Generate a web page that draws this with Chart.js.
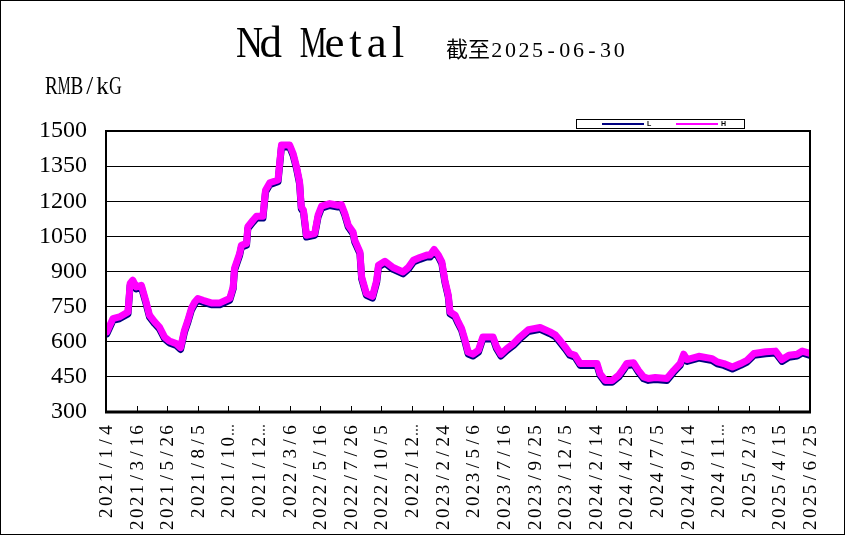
<!DOCTYPE html>
<html>
<head>
<meta charset="utf-8">
<title>Nd Metal</title>
<script src="https://cdn.jsdelivr.net/npm/chart.js@4.4.1/dist/chart.umd.min.js"></script>
<style>
    html, body { margin: 0; padding: 0; background: #fff; }
    #wrap { width: 845px; height: 535px; }
</style>
</head>
<body>
<div id="wrap"><canvas id="nd-chart" width="845" height="535"></canvas></div>
<script>
    'use strict';

    // Days counted from 2021/1/4 (first label)
    const dayIndex = [
        2, 16, 31, 51, 56, 62, 70, 82, 93, 101,
        113, 124, 136, 147, 163, 173, 182, 190, 198, 206,
        213, 225, 244, 264, 287, 295, 298, 310, 314, 326,
        329, 341, 349, 364, 370, 380, 399, 407, 426, 434,
        442, 449, 453, 458, 465, 484, 492, 500, 519, 538,
        546, 554, 562, 573, 577, 589, 593, 604, 618, 628,
        632, 647, 666, 689, 701, 713, 728, 744, 752, 761,
        771, 779, 786, 794, 798, 810, 817, 825, 833, 840,
        851, 864, 874, 898, 906, 916, 930, 945, 960, 980,
        1007, 1030, 1042, 1053, 1065, 1076, 1088, 1100, 1139, 1146,
        1158, 1174, 1189, 1200, 1208, 1224, 1235, 1247, 1258, 1274,
        1301, 1317, 1332, 1340, 1348, 1375, 1406, 1418, 1433, 1453,
        1472, 1487, 1503, 1530, 1553, 1568, 1584, 1603, 1615, 1633
    ];

    // High price, RMB/kG
    const priceH = [
        642, 699, 706, 727, 849, 863, 834, 841, 770, 713,
        685, 663, 620, 603, 592, 575, 649, 692, 742, 770,
        785, 777, 766, 766, 785, 834, 913, 977, 1012, 1020,
        1091, 1119, 1136, 1136, 1247, 1279, 1291, 1440, 1440, 1404,
        1347, 1283, 1176, 1162, 1055, 1062, 1141, 1179, 1190, 1183,
        1186, 1148, 1098, 1069, 1034, 984, 877, 806, 794, 863,
        927, 944, 917, 898, 917, 948, 960, 970, 970, 994,
        970, 941, 863, 799, 727, 713, 685, 656, 606, 556,
        547, 564, 620, 620, 578, 547, 571, 592, 620, 652,
        661, 642, 630, 606, 578, 550, 542, 507, 507, 464,
        435, 435, 457, 485, 507, 510, 478, 450, 443, 447,
        443, 478, 507, 547, 524, 538, 528, 514, 507, 492,
        507, 521, 550, 557, 560, 524, 542, 547, 560, 550
    ];

    // Low price, RMB/kG
    const priceL = [
        634, 691, 698, 719, 841, 855, 826, 833, 762, 705,
        677, 655, 612, 595, 584, 567, 641, 684, 734, 762,
        777, 769, 758, 758, 777, 826, 905, 969, 1004, 1012,
        1083, 1111, 1128, 1128, 1239, 1271, 1283, 1432, 1432, 1396,
        1339, 1275, 1168, 1154, 1047, 1054, 1133, 1171, 1182, 1175,
        1178, 1140, 1090, 1061, 1026, 976, 869, 798, 786, 855,
        919, 936, 909, 890, 909, 940, 952, 962, 962, 986,
        962, 933, 855, 791, 719, 705, 677, 648, 598, 548,
        539, 556, 612, 612, 570, 539, 563, 584, 612, 644,
        653, 634, 622, 598, 570, 542, 534, 499, 499, 456,
        427, 427, 449, 477, 499, 502, 470, 442, 435, 439,
        435, 470, 499, 539, 516, 530, 520, 506, 499, 484,
        499, 513, 542, 549, 552, 516, 534, 539, 552, 542
    ];

    // Date labels, one every 71 days
    const tickLabels = [
        '2021/1/4', '2021/3/16', '2021/5/26', '2021/8/5', '2021/10\u2026', '2021/12\u2026',
        '2022/3/6', '2022/5/16', '2022/7/26', '2022/10/5', '2022/12\u2026', '2023/2/24',
        '2023/5/6', '2023/7/16', '2023/9/25', '2023/12/5', '2024/2/14', '2024/4/25',
        '2024/7/5', '2024/9/14', '2024/11\u2026', '2025/2/3', '2025/4/15', '2025/6/25'
    ];
    const tickStep = 71;

    const SERIF = '"Liberation Serif", serif';
    const CJK = '"Noto Sans CJK SC"';

    function toPoints(values) {
        return values.map((v, i) => ({ x: dayIndex[i], y: v }));
    }

    // Draw text on a fixed pitch, like the half-width font of the original.
    // CJK characters take widePitch; glyphs wider than maxW get squeezed.
    function drawMono(ctx, text, x, y, pitch, widePitch, font, cjkFont, maxW) {
        let cx = x;
        ctx.textAlign = 'center';
        for (const ch of text) {
            const wide = ch.charCodeAt(0) > 0x2e80;
            const w = wide ? widePitch : pitch;
            ctx.font = wide ? cjkFont : font;
            ctx.fillText(ch, cx + w / 2, y, wide ? w : (maxW || w));
            cx += w;
        }
        return cx - x;
    }

    // Frame, inner ticks, date labels, titles and the small legend box
    const decorPlugin = {
        id: 'decor',
        afterDraw(chart) {
            const ctx = chart.ctx;
            const area = chart.chartArea;
            const xScale = chart.scales.x;

            ctx.save();
            ctx.strokeStyle = '#000';

            // plot frame
            ctx.lineWidth = 2;
            ctx.strokeRect(area.left, area.top, area.right - area.left, area.bottom - area.top);
            ctx.lineWidth = 3;
            ctx.beginPath();
            ctx.moveTo(area.left - 1, area.bottom);
            ctx.lineTo(area.right + 1, area.bottom);
            ctx.stroke();

            // tick marks pointing into the plot
            ctx.lineWidth = 1;
            xScale.ticks.forEach((t, i) => {
                const x = Math.round(xScale.getPixelForTick(i)) + 0.5;
                ctx.beginPath();
                ctx.moveTo(x, area.bottom);
                ctx.lineTo(x, area.bottom - 6);
                ctx.stroke();
            });

            // date labels, rotated, ending just under the axis
            ctx.fillStyle = '#000';
            ctx.textBaseline = 'middle';
            const pitch = 11.9;
            xScale.ticks.forEach((t, i) => {
                const label = tickLabels[i];
                const n = [...label].length;
                ctx.save();
                ctx.translate(xScale.getPixelForTick(i) + 1, area.bottom + 12);
                ctx.rotate(-Math.PI / 2);
                drawMono(ctx, label, -n * pitch, 0, pitch, pitch * 2, '19px ' + SERIF, '19px ' + CJK);
                ctx.restore();
            });

            // outer border
            ctx.lineWidth = 1;
            ctx.strokeRect(0.5, 0.5, chart.width - 1, chart.height - 1);

            // titles
            ctx.textBaseline = 'alphabetic';
            drawMono(ctx, 'Nd Metal', 239, 57, 21.2, 42, '45px ' + SERIF, '45px ' + CJK, 27);
            drawMono(ctx, '截至2025-06-30', 446, 57, 13.6, 22, '22px ' + SERIF, '22px ' + CJK);
            drawMono(ctx, 'RMB/kG', 45, 94, 12.8, 25, '25px ' + SERIF, '25px ' + CJK);

            // legend
            const box = { x: 576.5, y: 119.5, w: 168, h: 9 };
            ctx.fillStyle = '#fff';
            ctx.fillRect(box.x, box.y, box.w, box.h);
            ctx.strokeStyle = '#000';
            ctx.lineWidth = 1;
            ctx.strokeRect(box.x, box.y, box.w, box.h);
            const items = [
                { ds: chart.data.datasets[1], x: 602 },
                { ds: chart.data.datasets[0], x: 676 }
            ];
            ctx.font = 'bold 7px "Liberation Sans"';
            ctx.textAlign = 'left';
            ctx.textBaseline = 'middle';
            items.forEach(item => {
                ctx.strokeStyle = item.ds.borderColor;
                ctx.lineWidth = 2;
                ctx.beginPath();
                ctx.moveTo(item.x, box.y + 4.5);
                ctx.lineTo(item.x + 42, box.y + 4.5);
                ctx.stroke();
                ctx.fillStyle = '#000';
                ctx.fillText(item.ds.label, item.x + 45, box.y + 5);
            });

            ctx.restore();
        }
    };

    new Chart(document.getElementById('nd-chart'), {
        type: 'line',
        data: {
            datasets: [
                {
                    label: 'H',
                    data: toPoints(priceH),
                    borderColor: '#ff00ff',
                    borderWidth: 7,
                    order: 0
                },
                {
                    label: 'L',
                    data: toPoints(priceL),
                    borderColor: '#000080',
                    borderWidth: 7,
                    order: 1
                }
            ]
        },
        options: {
            responsive: false,
            animation: false,
            layout: {
                padding: { top: 131, right: 35, bottom: 0, left: 0 }
            },
            elements: {
                point: { radius: 0 },
                line: { tension: 0, borderJoinStyle: 'round', borderCapStyle: 'round' }
            },
            plugins: {
                legend: { display: false },
                tooltip: { enabled: false }
            },
            scales: {
                x: {
                    type: 'linear',
                    min: 0,
                    max: tickStep * (tickLabels.length - 1),
                    afterBuildTicks: scale => {
                        scale.ticks = tickLabels.map((l, i) => ({ value: i * tickStep }));
                    },
                    afterFit: scale => { scale.height = 123; },
                    grid: { display: false },
                    border: { display: false },
                    ticks: { display: false, autoSkip: false }
                },
                y: {
                    min: 300,
                    max: 1500,
                    afterFit: scale => { scale.width = 106; },
                    grid: { color: '#000', lineWidth: 1, drawTicks: false },
                    border: { display: false },
                    ticks: {
                        stepSize: 150,
                        padding: 19,
                        color: '#000',
                        font: { family: SERIF, size: 24 },
                        callback: value => String(value)
                    }
                }
            }
        },
        plugins: [decorPlugin]
    });
</script>
</body>
</html>
